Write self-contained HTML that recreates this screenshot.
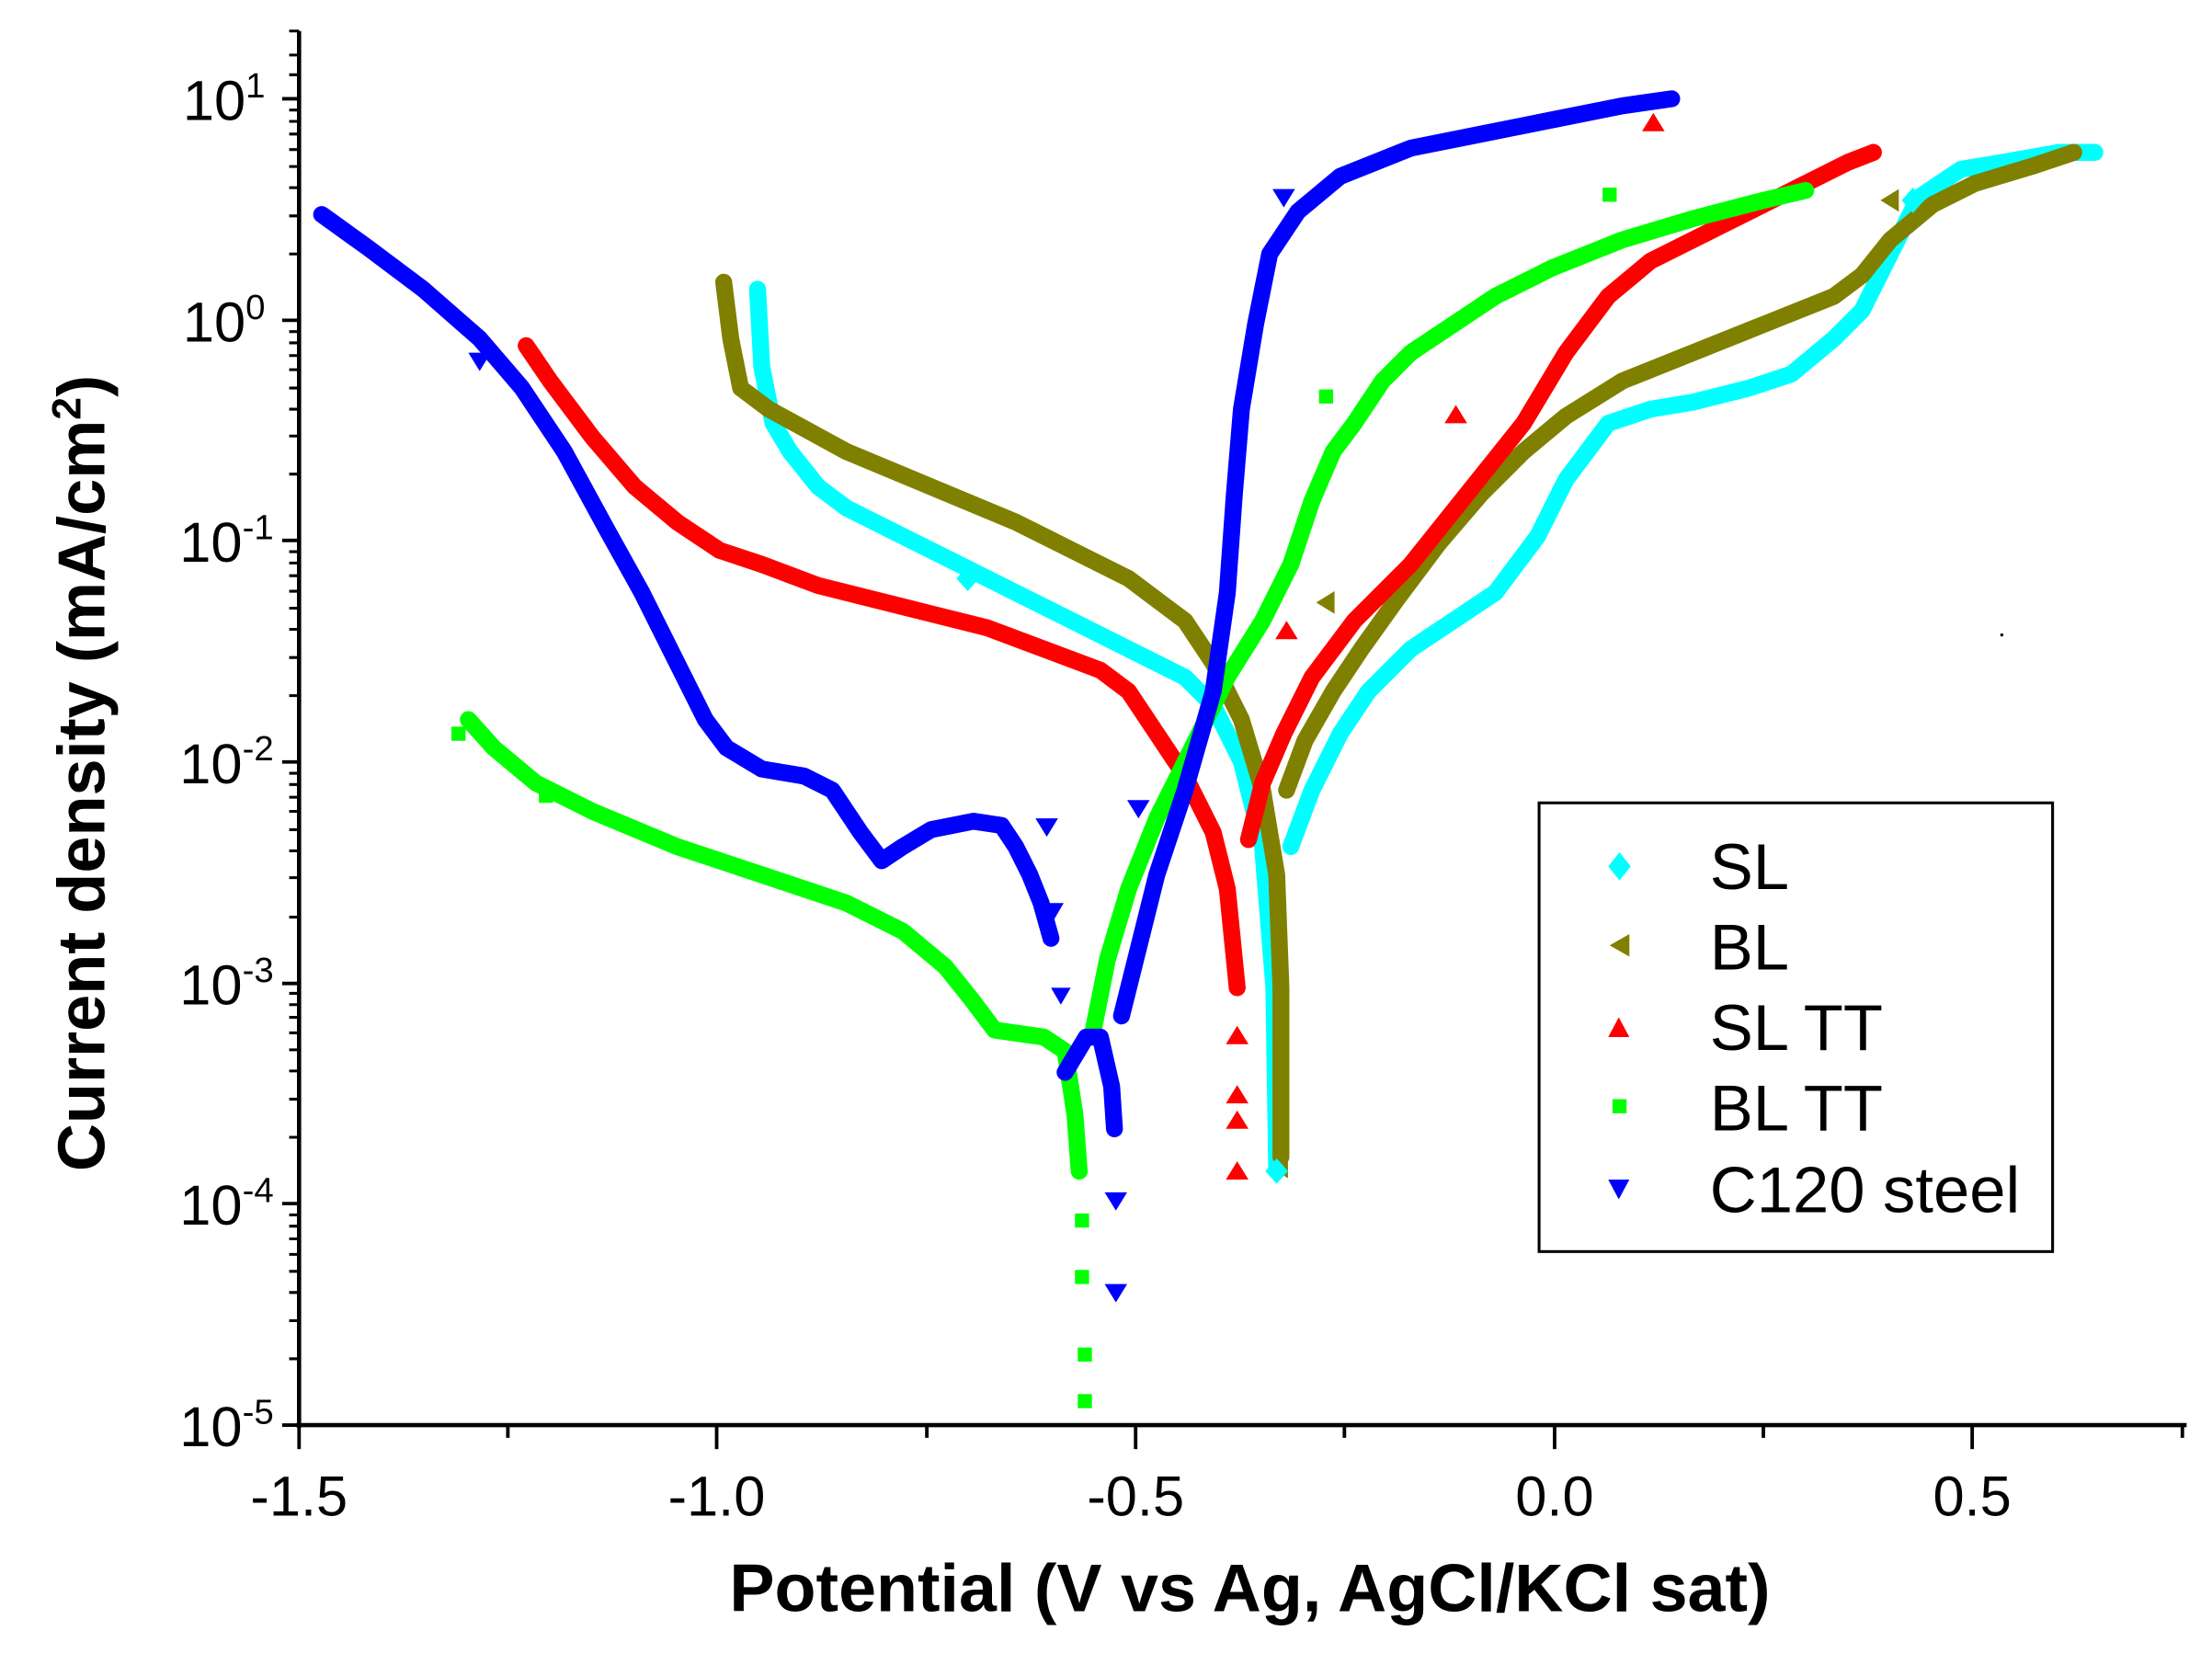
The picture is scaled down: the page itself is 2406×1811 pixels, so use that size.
<!DOCTYPE html>
<html><head><meta charset="utf-8"><style>html,body{margin:0;padding:0;background:#fff}svg{display:block}</style></head>
<body>
<svg width="2406" height="1811" viewBox="0 0 1568 1180" preserveAspectRatio="none" xmlns="http://www.w3.org/2000/svg" font-family="Liberation Sans, Arial, sans-serif">
<rect width="1568" height="1180" fill="#fff"/>
<g fill="none" stroke-width="12" stroke-linejoin="round" stroke-linecap="round">
<polyline stroke="#00FFFF" points="537,205 540,260 548,300 560,320 580,345 600,360 640,380 680,400 720,420 760,440 800,460 840,480 860,500 880,540 895,600 903,700 905,830"/>
<polyline stroke="#00FFFF" points="915,600 930,560 950,520 970,490 1000,460 1030,440 1060,420 1090,380 1110,340 1140,300 1170,290 1200,285 1240,275 1270,265 1300,240 1320,220 1340,180 1360,140 1390,120 1420,115 1460,108 1485,108"/>
<polyline stroke="#808000" points="513,200 518,240 525,275 545,290 600,320 660,345 720,370 760,390 800,410 840,440 860,470 880,510 895,560 905,620 908,700 908,820"/>
<polyline stroke="#808000" points="912,560 925,525 945,490 965,460 990,425 1020,385 1050,350 1080,320 1110,295 1150,270 1200,250 1250,230 1300,210 1320,195 1340,170 1370,145 1400,130 1440,118 1470,108"/>
<polyline stroke="#FF0000" points="373,245 390,270 420,310 450,345 480,370 510,390 540,400 580,415 640,430 700,445 740,460 780,475 800,490 820,520 840,550 860,590 870,630 875,680 877,700"/>
<polyline stroke="#FF0000" points="885,595 895,555 910,520 930,480 960,440 1000,400 1040,350 1080,300 1110,250 1140,210 1170,185 1220,160 1270,135 1310,115 1328,108"/>
<polyline stroke="#00FF00" points="332,510 350,530 380,555 420,575 480,600 540,620 600,640 640,660 670,685 690,710 705,730 740,735 755,745 762,790 765,830"/>
<polyline stroke="#00FF00" points="775,730 785,680 800,630 820,580 845,530 870,480 895,440 915,400 930,355 945,320 960,300 980,270 1000,250 1030,230 1060,210 1100,190 1150,170 1200,155 1250,142 1280,135"/>
<polyline stroke="#0000FF" points="228,152 260,175 300,205 340,240 370,275 400,320 430,375 455,420 480,470 500,510 515,530 540,545 570,550 590,560 610,590 625,610 640,600 660,588 690,582 710,585 720,600 730,620 738,640 745,665"/>
<polyline stroke="#0000FF" points="755,760 770,735 780,735 788,770 790,800"/>
<polyline stroke="#0000FF" points="795,720 805,680 820,620 840,560 860,490 870,420 875,350 880,290 890,230 900,180 920,150 950,125 1000,105 1050,95 1100,85 1150,75 1185,70"/>
</g>
<g fill="#00FF00"><rect x="762" y="860" width="10" height="10"/><rect x="762" y="900" width="10" height="10"/><rect x="764" y="955" width="10" height="10"/><rect x="764" y="988" width="10" height="10"/><rect x="1136" y="133" width="10" height="10"/><rect x="935" y="276" width="10" height="10"/><rect x="320" y="515" width="10" height="10"/><rect x="382" y="559" width="10" height="10"/></g>
<g fill="#0000FF"><path d="M783,910 h16 l-8,13z"/><path d="M783,845 h16 l-8,13z"/><path d="M902,134 h16 l-8,13z"/><path d="M799,567 h16 l-8,13z"/><path d="M734,580 h16 l-8,13z"/><path d="M332,250 h16 l-8,13z"/><path d="M740,640 h14 l-7,12z"/><path d="M745,700 h14 l-7,12z"/></g>
<g fill="#FF0000"><path d="M869,836 h16 l-8,-13z"/><path d="M869,800 h16 l-8,-13z"/><path d="M869,782 h16 l-8,-13z"/><path d="M1024,300 h16 l-8,-13z"/><path d="M1164,93 h16 l-8,-13z"/><path d="M904,453 h16 l-8,-13z"/><path d="M869,740 h16 l-8,-13z"/></g>
<g fill="#808000"><path d="M1346,134 v16 l-13,-8z"/><path d="M913,819 v16 l-13,-8z"/><path d="M946,419 v16 l-13,-8z"/></g>
<g fill="#00FFFF"><path d="M1356,133 l8,9 -8,9 -8,-9z"/><path d="M686,401 l8,9 -8,9 -8,-9z"/><path d="M905,821 l8,9 -8,9 -8,-9z"/></g>
<g stroke="#000" fill="none">
<line x1="212" y1="22" x2="212" y2="1012" stroke-width="3"/>
<line x1="210" y1="1010" x2="1550" y2="1010" stroke-width="3"/>
<g stroke-width="2.5">
<line x1="212" y1="1010" x2="212" y2="1027"/><line x1="508" y1="1010" x2="508" y2="1027"/><line x1="805" y1="1010" x2="805" y2="1027"/><line x1="1102" y1="1010" x2="1102" y2="1027"/><line x1="1398" y1="1010" x2="1398" y2="1027"/>
<line x1="360" y1="1010" x2="360" y2="1019"/><line x1="657" y1="1010" x2="657" y2="1019"/><line x1="953" y1="1010" x2="953" y2="1019"/><line x1="1250" y1="1010" x2="1250" y2="1019"/><line x1="1547" y1="1010" x2="1547" y2="1019"/>
</g>
<g stroke-width="2.5">
<line x1="200" y1="70" x2="212" y2="70"/><line x1="200" y1="227" x2="212" y2="227"/><line x1="200" y1="383" x2="212" y2="383"/><line x1="200" y1="540" x2="212" y2="540"/><line x1="200" y1="697" x2="212" y2="697"/><line x1="200" y1="853" x2="212" y2="853"/><line x1="200" y1="1010" x2="212" y2="1010"/>
</g>
<path stroke-width="2" d="M205,22h7M205,39h7M205,53h7
M205,180h7M205,153h7M205,133h7M205,118h7M205,106h7M205,95h7M205,86h7M205,78h7
M205,336h7M205,309h7M205,290h7M205,275h7M205,262h7M205,252h7M205,243h7M205,235h7
M205,493h7M205,466h7M205,446h7M205,431h7M205,419h7M205,408h7M205,399h7M205,391h7
M205,650h7M205,622h7M205,603h7M205,588h7M205,575h7M205,565h7M205,556h7M205,548h7
M205,806h7M205,779h7M205,759h7M205,744h7M205,732h7M205,721h7M205,712h7M205,704h7
M205,963h7M205,936h7M205,916h7M205,901h7M205,889h7M205,878h7M205,869h7M205,861h7"/>
</g>
<g font-size="40" fill="#000" text-anchor="middle">
<text x="212" y="1074">-1.5</text><text x="508" y="1074">-1.0</text><text x="805" y="1074">-0.5</text><text x="1102" y="1074">0.0</text><text x="1398" y="1074">0.5</text>
</g>
<g font-size="40" fill="#000" text-anchor="end">
<text x="188" y="85">10<tspan font-size="25" dy="-16">1</tspan></text>
<text x="188" y="242">10<tspan font-size="25" dy="-16">0</tspan></text>
<text x="194" y="398">10<tspan font-size="25" dy="-16">-1</tspan></text>
<text x="194" y="555">10<tspan font-size="25" dy="-16">-2</tspan></text>
<text x="194" y="712">10<tspan font-size="25" dy="-16">-3</tspan></text>
<text x="194" y="868">10<tspan font-size="25" dy="-16">-4</tspan></text>
<text x="194" y="1025">10<tspan font-size="25" dy="-16">-5</tspan></text>
</g>
<text x="886" y="1142" font-size="48" font-weight="bold" text-anchor="middle">Potential (V vs Ag, AgCl/KCl sat)</text>
<text transform="translate(74,548) rotate(-90)" font-size="47" font-weight="bold" text-anchor="middle">Current density (mA/cm<tspan font-size="29" dy="-17">2</tspan><tspan dy="17">)</tspan></text>
<rect x="1091" y="569" width="364" height="318" fill="#fff" stroke="#000" stroke-width="2"/>
<path d="M1148,604 l8,10 -8,10 -8,-10z" fill="#00FFFF"/>
<path d="M1155,662 v16 l-14,-8z" fill="#808000"/>
<path d="M1140,735 h15 l-7.5,-14z" fill="#FF0000"/>
<rect x="1143" y="779" width="10" height="10" fill="#00FF00"/>
<path d="M1140,836 h15 l-7.5,14z" fill="#0000FF"/>
<g font-size="46" fill="#000">
<text x="1212" y="630">SL</text><text x="1212" y="687">BL</text><text x="1212" y="744">SL TT</text><text x="1212" y="801">BL TT</text><text x="1212" y="859">C120 steel</text>
</g>
<rect x="1418" y="449" width="2" height="2" fill="#000"/>
</svg>
</body></html>
